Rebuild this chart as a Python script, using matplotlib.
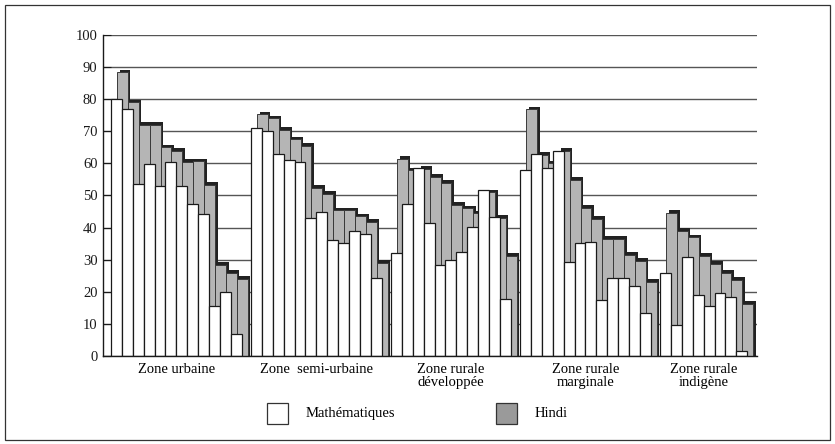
import matplotlib
matplotlib.use("Agg")
import matplotlib.pyplot as plt
from matplotlib.patches import Rectangle

plt.rcParams['font.family'] = ['Liberation Serif', 'DejaVu Serif']

zones = ["Zone urbaine", "Zone  semi-urbaine", "Zone rurale\ndéveloppée",
         "Zone rurale\nmarginale", "Zone rurale\nindigène"]

maths_urbaine = [80, 76.8, 53.6, 59.7, 53, 60.4, 53, 47.5, 44.3, 15.6, 20, 6.8]
hindi_urbaine = [88.4, 79, 71.9, 71.9, 65, 64, 60.5, 60.6, 53.2, 28.5, 26, 24]

maths_semi = [71, 70.1, 62.9, 61, 60.4, 43, 44.8, 36, 35.3, 39, 37.9, 24.2]
hindi_semi = [75.3, 74, 70.4, 67.5, 65.4, 52.4, 50.5, 45.4, 45.4, 43.5, 41.9, 29]

maths_developpee = [32, 47.5, 58.6, 41.4, 28.5, 29.8, 32.3, 40.3, 51.8, 43.3, 17.8]
hindi_developpee = [61.3, 57.8, 58.3, 55.9, 54, 47.1, 46, 44.4, 51, 43, 31.2]

maths_marginale = [57.8, 62.9, 58.6, 64, 29.3, 35.3, 35.5, 17.4, 24.2, 24.4, 21.7, 13.4]
hindi_marginale = [76.8, 62.6, 60, 63.8, 54.8, 46.2, 42.8, 36.6, 36.6, 31.6, 29.7, 23]

maths_indigene = [25.8, 9.8, 30.9, 19, 15.6, 19.7, 18.5, 1.7]
hindi_indigene = [44.5, 39, 37, 31.3, 28.6, 25.9, 23.7, 16.2]

maths = [maths_urbaine, maths_semi, maths_developpee, maths_marginale, maths_indigene]
hindi = [hindi_urbaine, hindi_semi, hindi_developpee, hindi_marginale, hindi_indigene]

yticks = [0, 10, 20, 30, 40, 50, 60, 70, 80, 90, 100]

W, H, DPI = 835, 444, 100
fig = plt.figure(figsize=(W / DPI, H / DPI), dpi=DPI)
fig.patches.append(Rectangle((5 / W, 4 / H), (W - 10) / W, (H - 9) / H,
                             transform=fig.transFigure, fill=False,
                             edgecolor="#333333", linewidth=0.9))

ax = fig.add_axes([103 / W, (H - 356) / H, (757 - 103) / W, (356 - 35) / H])

gap = 0.85           # space between zones, in bar widths
shift = 0.55         # Hindi bar offset behind the maths bar
sh_dx, sh_dy = 0.24, 0.85   # drop-shadow offset of the Hindi bars
gray = "#b5b5b5"

start = 0.0
centers = []
for m_vals, h_vals in zip(maths, hindi):
    n = len(m_vals)
    xs = [start + i for i in range(n)]
    # Hindi bars with their dark drop shadow, drawn behind
    for x, h in zip(xs, h_vals):
        ax.bar(x + shift + sh_dx, h + sh_dy, width=1, align="edge",
               color="#222222", linewidth=0, zorder=2)
        ax.bar(x + shift, h, width=1, align="edge", color=gray,
               edgecolor="#3a3a3a", linewidth=0.7, zorder=2)
    # Maths bars in front
    ax.bar(xs, m_vals, width=1, align="edge", color="white",
           edgecolor="#1a1a1a", linewidth=0.9, zorder=3)
    centers.append(start + n / 2)
    start += n + gap

ax.set_xlim(-0.73, 59.3)
ax.set_ylim(0, 100)
ax.set_yticks(yticks)
ax.tick_params(axis="y", direction="in", length=6, width=0.8,
               labelsize=10.5, pad=4, colors="#1a1a1a")
ax.set_xticks(centers)
ax.set_xticklabels(zones, fontsize=10.5, linespacing=1.05)
ax.tick_params(axis="x", length=0, pad=5)
for t in ax.get_xticklabels():
    t.set_verticalalignment("top")

ax.yaxis.grid(True, color="#555555", linewidth=1.0, zorder=0)
ax.set_axisbelow(True)
for s in ["top", "right"]:
    ax.spines[s].set_visible(False)
for s in ["left", "bottom"]:
    ax.spines[s].set_color("#1a1a1a")
    ax.spines[s].set_linewidth(1.0)
    ax.spines[s].set_zorder(5)

# legend boxes drawn in figure pixels
def legend_item(x0, color, label):
    fig.patches.append(Rectangle((x0 / W, (H - 424) / H), 21 / W, 21 / H,
                                 transform=fig.transFigure, facecolor=color,
                                 edgecolor="#333333", linewidth=0.9))
    fig.text((x0 + 39) / W, (H - 413) / H, label, fontsize=10.5,
             va="center", ha="left")

legend_item(267, "white", "Mathématiques")
legend_item(496, "#9a9a9a", "Hindi")

fig.savefig("out.png", dpi=DPI)
